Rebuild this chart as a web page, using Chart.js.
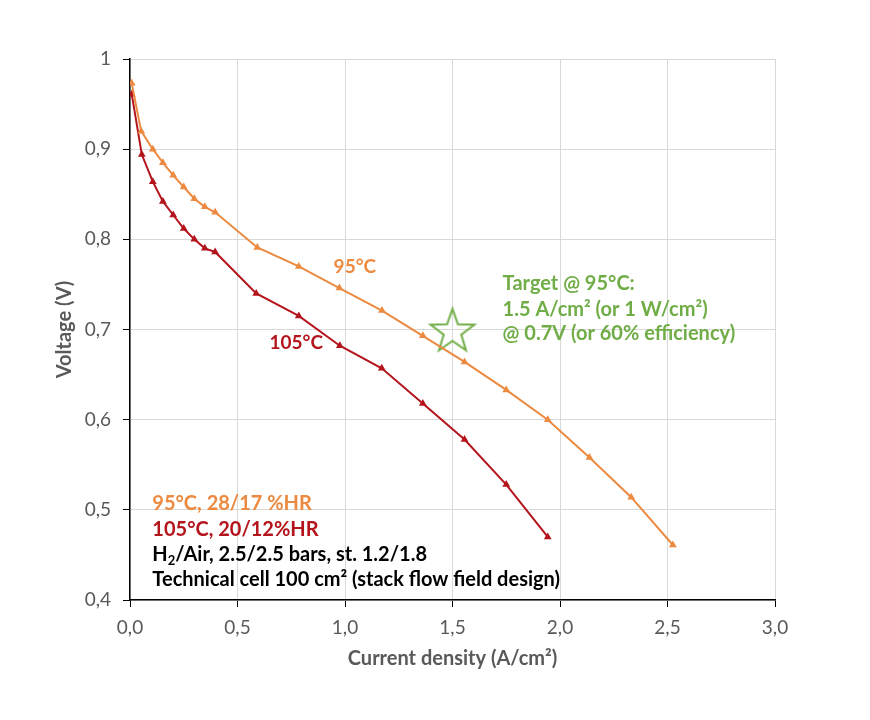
<!DOCTYPE html>
<html>
<head>
<meta charset="utf-8">
<title>Polarisation curves</title>
<script src="https://cdn.jsdelivr.net/npm/chart.js@4.4.1/dist/chart.umd.min.js"></script>
<style>
  html, body { margin: 0; padding: 0; background: #fff; }
  #wrap { width: 870px; height: 720px; }
</style>
</head>
<body>
<div id="wrap"><canvas id="polChart" width="870" height="720"></canvas></div>
<script>
'use strict';

// Data (current density in A/cm², voltage in V)
const temp95Current = [0.008, 0.052, 0.106, 0.153, 0.201, 0.250, 0.299, 0.348, 0.396, 0.592,
  0.785, 0.974, 1.172, 1.362, 1.556, 1.750, 1.943, 2.137, 2.331, 2.525];
const temp95Voltage = [0.973, 0.920, 0.900, 0.885, 0.871, 0.858, 0.845, 0.836, 0.830, 0.791,
  0.770, 0.746, 0.721, 0.693, 0.664, 0.633, 0.600, 0.558, 0.514, 0.461];

const temp105Current = [0.008, 0.055, 0.106, 0.153, 0.201, 0.250, 0.299, 0.348, 0.396, 0.587,
  0.785, 0.976, 1.171, 1.362, 1.556, 1.750, 1.943];
const temp105Voltage = [0.961, 0.894, 0.864, 0.842, 0.827, 0.812, 0.800, 0.790, 0.786, 0.740,
  0.715, 0.682, 0.657, 0.618, 0.578, 0.528, 0.470];

// The target point (star)
const targetCurrent = [1.5];
const targetVoltage = [0.7];

// Axis ranges / ticks
const xTicks = [0, 0.5, 1.0, 1.5, 2.0, 2.5, 3.0];
const yTicks = [0.4, 0.5, 0.6, 0.7, 0.8, 0.9, 1];

const ORANGE = '#EB8A40';
const RED = '#B4141C';
const GREEN = '#70AD47';
const GREY = '#595959';
const FONT = 'Lato, "Open Sans", sans-serif';

function toPoints(xs, ys) {
  return xs.map((x, i) => ({ x: x, y: ys[i] }));
}

// Chart.js 'star' is an asterisk, so build a hollow 5 point star marker
function makeStar(radius, color) {
  const size = radius * 2 + 6;
  const c = document.createElement('canvas');
  c.width = size;
  c.height = size;
  const g = c.getContext('2d');
  const cx = size / 2;
  const cy = size / 2 + radius * 0.1;
  const inner = radius * 0.4;
  g.beginPath();
  for (let i = 0; i < 10; i++) {
    const r = i % 2 === 0 ? radius : inner;
    const a = -Math.PI / 2 + i * Math.PI / 5;
    const px = cx + r * Math.cos(a);
    const py = cy + r * Math.sin(a);
    if (i === 0) g.moveTo(px, py); else g.lineTo(px, py);
  }
  g.closePath();
  g.strokeStyle = color;
  g.lineWidth = 2;
  g.stroke();
  return c;
}

// Text notes written on the plot, placed in data coordinates
const notes = [
  { text: '95°C', x: 0.947, y: 0.769, color: ORANGE, size: 19 },
  { text: '105°C', x: 0.649, y: 0.685, color: RED, size: 19 },
  { text: 'Target @ 95°C:', x: 1.733, y: 0.7515, color: GREEN, size: 20 },
  { text: '1.5 A/cm² (or 1 W/cm²)', x: 1.733, y: 0.7225, color: GREEN, size: 20 },
  { text: '@ 0.7V (or 60% efficiency)', x: 1.733, y: 0.6955, color: GREEN, size: 20 },
  { text: '95°C, 28/17 %HR', x: 0.104, y: 0.507, color: ORANGE, size: 20 },
  { text: '105°C, 20/12%HR', x: 0.104, y: 0.478, color: RED, size: 20 },
  { text: ['H', '2', '/Air, 2.5/2.5 bars, st. 1.2/1.8'], x: 0.104, y: 0.4505, color: '#000', size: 20 },
  { text: 'Technical cell 100 cm² (stack flow field design)', x: 0.104, y: 0.423, color: '#000', size: 20 }
];

const notesPlugin = {
  id: 'notes',
  afterDatasetsDraw(chart) {
    const ctx = chart.ctx;
    const xs = chart.scales.x;
    const ys = chart.scales.y;
    ctx.save();
    ctx.textBaseline = 'middle';
    ctx.textAlign = 'left';
    notes.forEach(n => {
      let px = xs.getPixelForValue(n.x);
      const py = ys.getPixelForValue(n.y);
      const big = 'bold ' + n.size + 'px ' + FONT;
      ctx.fillStyle = n.color;
      if (Array.isArray(n.text)) {
        // H2 with a subscript 2
        ctx.font = big;
        ctx.fillText(n.text[0], px, py);
        px += ctx.measureText(n.text[0]).width;
        ctx.font = 'bold 13px ' + FONT;
        ctx.fillText(n.text[1], px, py + 6);
        px += ctx.measureText(n.text[1]).width;
        ctx.font = big;
        ctx.fillText(n.text[2], px, py);
      } else {
        ctx.font = big;
        ctx.fillText(n.text, px, py);
      }
    });
    ctx.restore();
  }
};

function commaLabel(v, digits) {
  if (v === 1 && digits === 0) return '1';
  return v.toFixed(digits).replace('.', ',');
}

const ctx = document.getElementById('polChart').getContext('2d');
const polChart = new Chart(ctx, {
  type: 'scatter',
  data: {
    datasets: [
      {
        label: '95°C',
        data: toPoints(temp95Current, temp95Voltage),
        showLine: true,
        borderColor: ORANGE,
        backgroundColor: ORANGE,
        borderWidth: 2,
        pointStyle: 'triangle',
        pointRadius: 4.5,
        pointBorderWidth: 0
      },
      {
        label: '105°C',
        data: toPoints(temp105Current, temp105Voltage),
        showLine: true,
        borderColor: RED,
        backgroundColor: RED,
        borderWidth: 2,
        pointStyle: 'triangle',
        pointRadius: 4.5,
        pointBorderWidth: 0
      },
      {
        label: 'Target',
        data: toPoints(targetCurrent, targetVoltage),
        showLine: false,
        pointStyle: makeStar(23, GREEN),
        pointRadius: 23
      }
    ]
  },
  options: {
    responsive: false,
    animation: false,
    events: [],
    layout: { padding: { top: 59, right: 95, bottom: 0, left: 0 } },
    plugins: {
      legend: { display: false },
      tooltip: { enabled: false }
    },
    scales: {
      x: {
        type: 'linear',
        min: 0,
        max: 3,
        afterBuildTicks: scale => { scale.ticks = xTicks.map(v => ({ value: v })); },
        afterFit: scale => { scale.height = 120; },
        ticks: {
          color: GREY,
          font: { family: FONT, size: 19 },
          padding: 9,
          callback: v => commaLabel(v, 1)
        },
        grid: { color: '#D9D9D9', tickColor: '#000', tickLength: 7, lineWidth: 1 },
        border: { color: '#000', width: 1.5 },
        title: {
          display: true,
          text: 'Current density (A/cm²)',
          color: GREY,
          font: { family: FONT, size: 20, weight: 'bold' },
          padding: { top: 0, bottom: 49 }
        }
      },
      y: {
        type: 'linear',
        min: 0.4,
        max: 1,
        afterBuildTicks: scale => { scale.ticks = yTicks.map(v => ({ value: v })); },
        afterFit: scale => { scale.width = 130; },
        ticks: {
          color: GREY,
          font: { family: FONT, size: 19 },
          padding: 12,
          callback: v => commaLabel(v, v === 1 ? 0 : 1)
        },
        grid: { color: '#D9D9D9', tickColor: '#000', tickLength: 7, lineWidth: 1 },
        border: { color: '#000', width: 1.5 },
        title: {
          display: true,
          text: 'Voltage (V)',
          color: GREY,
          font: { family: FONT, size: 20, weight: 'bold' },
          padding: { top: 53, bottom: 0 }
        }
      }
    }
  },
  plugins: [notesPlugin]
});
</script>
</body>
</html>
